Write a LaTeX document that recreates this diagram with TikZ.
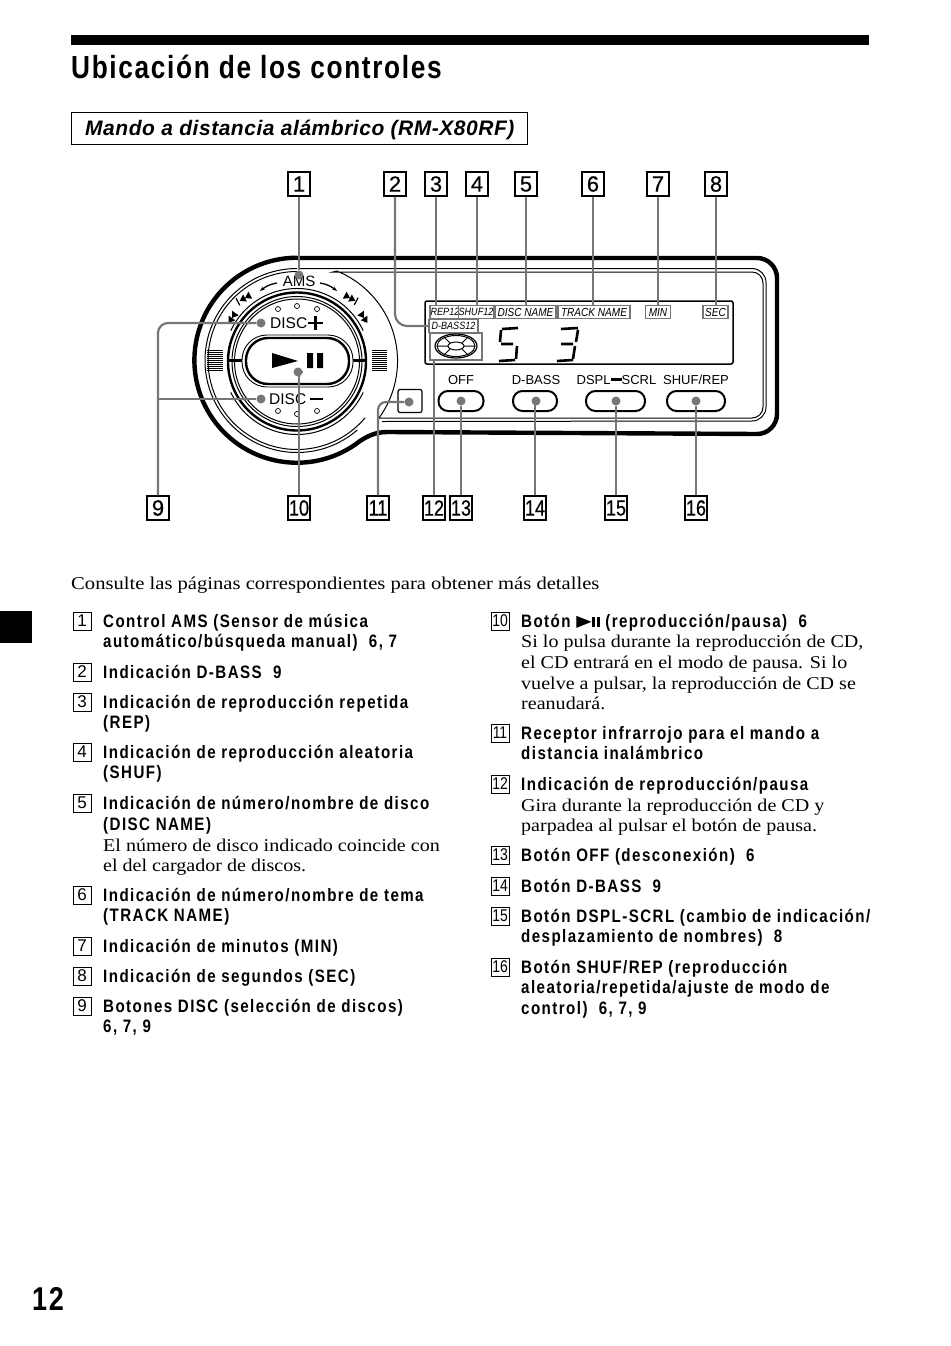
\documentclass[tikz,border=0pt]{standalone}
\usepackage{fontspec}
\usepackage{tikz}
\usetikzlibrary{positioning}
\usetikzlibrary{arrows.meta}
\setsansfont{Liberation Sans}
\setmainfont{Liberation Serif}[FakeStretch=1.115]
\newfontfamily\itemfont{Liberation Sans}[FakeStretch=0.84,LetterSpace=8]
\newfontfamily\headfont{Liberation Sans}[FakeStretch=0.82,LetterSpace=5.2]
\newfontfamily\introfont{Liberation Serif}[FakeStretch=1.145]
\newfontfamily\numfont{Liberation Sans}[FakeStretch=0.82]
\newfontfamily\calloutfont{Liberation Sans}[FakeStretch=0.82,FakeBold=0.4]
\newfontfamily\calloutwide{Liberation Sans}[FakeBold=0.4]
\newfontfamily\labelfont{Liberation Sans}[FakeStretch=0.86]
\newfontfamily\symfont{DejaVu Sans}[FakeStretch=1.25]
\newcommand{\callnum}[1]{\ifnum#1<10 \sffamily\fi #1}
\newcommand{\boldnum}[1]{\ifnum#1<10 \calloutwide\fi #1}
\newcommand{\playpause}{{\symfont\fontsize{16}{16}\selectfont\raisebox{.5pt}{▶}}\kern.5pt\rule{3pt}{10pt}\kern1.5pt\rule{3pt}{10pt}}
\newcommand{\skipmark}[3]{%
  \begin{scope}[shift={(#1)},rotate=#2]
    \fill (-6,0) -- (0,-4) -- (0,4) -- cycle (0,0) -- (6,-4) -- (6,4) -- cycle;
    #3
  \end{scope}}
\definecolor{leadergray}{HTML}{767676}

\begin{document}
\begin{tikzpicture}[
    x=1pt, y=-1pt,
    callout/.style={rectangle, draw, line width=1.2pt, minimum width=22pt, minimum height=24pt, inner sep=0pt, font=\calloutfont\fontsize{22}{22}\selectfont},
    listnum/.style={rectangle, draw, line width=.9pt, minimum width=18pt, minimum height=18pt, inner sep=0pt, font=\numfont\fontsize{17}{17}\selectfont},
    item/.style={anchor=base west, inner sep=0pt, align=left, font=\itemfont\bfseries\fontsize{18}{20.6}\selectfont},
    plain/.style={anchor=base west, inner sep=0pt, align=left, font=\rmfamily\fontsize{18}{20.6}\selectfont},
    dot/.style={circle, fill=leadergray, minimum size=9pt, inner sep=0pt},
    leader/.style={draw=leadergray, line width=2.2pt},
    seglabel/.style={rectangle, draw=leadergray, line width=1.6pt, fill=white, inner sep=0pt, minimum height=13pt, font=\labelfont\itshape\fontsize{10.5}{10.5}\selectfont},
    seglong/.style={seglabel, font=\labelfont\itshape\fontsize{11.7}{11.7}\selectfont},
    keypill/.style={rectangle, rounded corners=9.5pt, draw, line width=2pt, minimum height=20pt, inner sep=0pt},
    keytext/.style={inner sep=0pt, font=\sffamily\fontsize{13}{13}\selectfont},
    digit/.style={line width=2.6pt},
    thinring/.style={line width=1pt},
    ledhole/.style={circle, draw, line width=.7pt, minimum size=5pt, inner sep=0pt}
]
\useasboundingbox (0,0) rectangle (950,1346);

% Page head
\fill (71,35) rectangle (869,45);
\fill (0,611) rectangle (32,643);
\node[item, font=\headfont\bfseries\fontsize{32}{32}\selectfont] (title) at (71,78) {Ubicación de los controles};
\node[rectangle, draw, line width=.9pt, minimum width=456pt, minimum height=32pt, inner sep=0pt] (subbox) at (299,128) {};
\node[anchor=base west, inner sep=0pt, font=\sffamily\bfseries\itshape\fontsize{21}{21}\selectfont] (subtitle) at (85,135) {\addfontfeature{LetterSpace=2.5}Mando a distancia alámbrico (RM-X80RF)};

% Body of the remote
\draw[line width=4.4pt] (297,258) -- (757,258) arc (270:360:20) -- (777,414) arc (0:90:20) -- (388,432)
   .. controls (375,432) and (368,436) .. (360,441) arc (52:270:102.5);
\draw[thinring] (333,272) -- (752,272) arc (270:360:11) -- (763,407) arc (0:90:11) -- (392,418) -- (379,418) arc (36:-68:97) -- cycle;
\draw[thinring] (300,268.5) -- (752,268.5) arc (270:360:14) -- (766,407) arc (0:90:14) -- (382,421.5);
\draw[thinring] (297,360.5) ++(49:92) arc (49:270:92);
\draw[thinring] (297,360.5) ++(40:89) arc (40:272:89);
\draw[line width=2.4pt] (297,361.5) circle (69);
\draw[thinring] (297,361.5) circle (65);
\draw[thinring] (297,361.5) circle (62.5);
\draw[thinring] (297,361.5) ++(205:73) arc (205:335:73);
\draw[thinring] (297,361.5) ++(25:73) arc (25:155:73);

% Side grips
\foreach \gy in {350,352,...,370} {
  \draw[line width=.6pt] (207,\gy) -- (223,\gy);
  \draw[line width=.6pt] (372,\gy) -- (387,\gy);
}
\draw[line width=3pt] (229,360) -- (246,360) (349,360) -- (365,360);

% Centre key
\node[rectangle, rounded corners=25pt, draw, line width=.9pt, minimum width=111pt, minimum height=52pt, inner sep=0pt, fill=white] (playouter) at (297.5,361) {};
\node[rectangle, rounded corners=22pt, draw, line width=2.4pt, minimum width=103pt, minimum height=46pt, inner sep=0pt] (playkey) at (297.5,361) {};
\fill (272,353) -- (298,361) -- (272,368) -- cycle;
\fill (307,353) rectangle (313,368) (317,353) rectangle (323,368);

% Disc keys and AMS
\node[keytext, anchor=west, font=\sffamily\fontsize{15.5}{15.5}\selectfont] (discplus) at (270,323) {DISC};
\draw[line width=2.6pt] (308,323) -- (323,323) (315.5,316) -- (315.5,330);
\node[keytext, anchor=west, font=\sffamily\fontsize{15.5}{15.5}\selectfont] (discminus) at (269,399) {DISC};
\draw[line width=2.6pt] (310,399) -- (323,399);
\foreach \hx/\hy in {278/309,297/306,317/309,278/411,297/414,317/411} {
  \node[ledhole] at (\hx,\hy) {};
}
\node[keytext, font=\sffamily\fontsize{15}{15}\selectfont] (ams) at (299,281) {AMS};
\draw[-{Stealth[length=5pt]}, line width=1.3pt] (277,283) .. controls (270,284) and (265,287) .. (260,291);
\draw[-{Stealth[length=5pt]}, line width=1.3pt] (320,283) .. controls (327,284) and (332,287) .. (337,291);
\skipmark{232,318}{55}{}
\skipmark{245,298}{28}{\draw[line width=1.2pt] (-8,-4) -- (-8,4);}
\begin{scope}[shift={(350,298)},rotate=-28]
  \fill (-6,-4) -- (0,0) -- (-6,4) -- cycle (0,-4) -- (6,0) -- (0,4) -- cycle;
  \draw[line width=1.2pt] (7,-4) -- (7,4);
\end{scope}
\begin{scope}[shift={(364,318)},rotate=-55]
  \fill (-6,-4) -- (0,0) -- (-6,4) -- cycle (0,-4) -- (6,0) -- (0,4) -- cycle;
\end{scope}

% Infrared receiver
\node[rectangle, rounded corners=2pt, draw, line width=1.2pt, minimum width=24pt, minimum height=23pt, inner sep=0pt] (irbox) at (410,401) {};

% Display
\node[rectangle, rounded corners=2pt, draw, line width=1.5pt, minimum width=308pt, minimum height=63pt, inner sep=0pt] (display) at (579,332.5) {};
\node[seglabel, minimum width=30pt] (rep) at (445,312) {REP12};
\node[seglabel, minimum width=32pt] (shuf) at (476,312) {SHUF12};
\node[seglong, minimum width=61pt] (discname) at (525.5,312) {DISC NAME};
\node[seglong, minimum width=72pt] (trackname) at (594,312) {TRACK NAME};
\node[seglong, minimum width=25pt] (minlabel) at (658,312) {MIN};
\node[seglong, minimum width=25pt] (seclabel) at (715.5,312) {SEC};
\node[seglabel, minimum width=49pt] (dbasslabel) at (453.5,326) {D-BASS12};
\node[rectangle, draw=leadergray, line width=1.6pt, minimum width=52pt, minimum height=27pt, inner sep=0pt] (discbox) at (456,346.5) {};
\draw[line width=1.2pt] (456,346) ellipse (21 and 12);
\draw[thinring] (456,346) ellipse (19 and 10.5);
\draw[thinring] (456,346) ellipse (8 and 4);
\draw[thinring] (437,346) -- (448,346) (464,346) -- (475,346) (450,343) -- (444,337) (462,343) -- (468,337) (450,349) -- (444,355) (462,349) -- (468,355);
\draw[digit] (502,329) -- (518,328) (501,330) -- (500,342) (501,344) -- (513,344) (517,346) -- (516,359) (499,361) -- (515,360);
\draw[digit] (561,329) -- (578,328) (578,330) -- (576,342) (561,344) -- (573,344) (575,346) -- (573,359) (557,361) -- (573,360);

% Keys under the display
\node[keytext] (offtext) at (461,380) {OFF};
\node[keytext] (dbasstext) at (536,380) {D-BASS};
\node[keytext] (dspltext) at (616.5,380) {DSPL\rule[3pt]{11pt}{3pt}SCRL};
\node[keytext] (shuftext) at (696,380) {SHUF/REP};
\node[keypill, minimum width=45pt] (offkey) at (461,401) {};
\node[keypill, minimum width=44pt] (dbasskey) at (535,401) {};
\node[keypill, minimum width=59pt] (dsplkey) at (615.5,401) {};
\node[keypill, minimum width=58pt] (shufkey) at (696,401) {};

% Callouts (top row)
\foreach \n/\cx in {1/299,2/395,3/436,4/477,5/526,6/593,7/658,8/716} {
  \node[callout] (c\n) at (\cx,184) {\boldnum{\n}};
}
% Callouts (bottom row)
\foreach \n/\cx in {9/158,10/299,11/378,12/434,13/461,14/535,15/616,16/696} {
  \node[callout] (c\n) at (\cx,508) {\boldnum{\n}};
}

% Dots
\node[dot] (dams) at (299,275) {};
\node[dot] (dplus) at (261,323) {};
\node[dot] (dminus) at (261,399) {};
\node[dot] (dplay) at (298,372) {};
\node[dot] (dir) at (409,402) {};
\node[dot] (doff) at (461,401) {};
\node[dot] (ddbass) at (536,401) {};
\node[dot] (ddspl) at (616,401) {};
\node[dot] (dshuf) at (696,401) {};

% Leaders
\draw[leader] (c1) -- (dams);
\draw[leader, rounded corners=12pt] (c2) |- (dbasslabel.west);
\foreach \n/\t in {3/rep,4/shuf,5/discname,6/trackname,7/minlabel,8/seclabel} {
  \draw[leader] (c\n) -- (c\n |- \t.north);
}
\draw[leader, rounded corners=10pt] (c9) |- (dplus);
\draw[leader] (c9 |- dminus) -- (dminus);
\draw[leader] (c10) -- (c10 |- dplay) -- (dplay);
\draw[leader, rounded corners=8pt] (c11) |- (dir);
\draw[leader] (c12) -- (c12 |- discbox.south);
\draw[leader] (c13) -- (doff);
\draw[leader] (c14) -- (c14 |- ddbass);
\draw[leader] (c15) -- (ddspl);
\draw[leader] (c16) -- (dshuf);

% Text under the picture
\node[plain, font=\introfont\fontsize{18}{20.6}\selectfont] (intro) at (71,589) {Consulte las páginas correspondientes para obtener más detalles};

% Left column
\foreach \n/\ly in {1/621,2/672,3/702,4/752,5/803,6/895,7/946,8/976,9/1006} {
  \node[listnum] (l\n) at (82,\ly) {\callnum{\n}};
}
\node[item] (t1) at (103,647.8) {Control AMS (Sensor de música\\automático/búsqueda manual)\ \ 6, 7};
\node[item] (t2) at (103,678) {Indicación D-BASS\ \ 9};
\node[item] (t3) at (103,728.8) {Indicación de reproducción repetida\\(REP)};
\node[item] (t4) at (103,778.8) {Indicación de reproducción aleatoria\\(SHUF)};
\node[item] (t5) at (103,871.6) {Indicación de número/nombre de disco\\(DISC NAME)\\{\rmfamily\mdseries El número de disco indicado coincide con}\\{\rmfamily\mdseries el del cargador de discos.}};
\node[item] (t6) at (103,921.8) {Indicación de número/nombre de tema\\(TRACK NAME)};
\node[item] (t7) at (103,952) {Indicación de minutos (MIN)};
\node[item] (t8) at (103,982) {Indicación de segundos (SEC)};
\node[item] (t9) at (103,1032.8) {Botones DISC (selección de discos)\\6, 7, 9};

% Right column
\foreach \n/\ly in {10/621,11/733,12/784,13/855,14/886,15/916,16/967} {
  \node[listnum] (l\n) at (500,\ly) {\callnum{\n}};
}
\node[item] (t10) at (521,709.6) {Botón \playpause\ (reproducción/pausa)\ \ 6\\{\rmfamily\mdseries Si lo pulsa durante la reproducción de CD,}\\{\rmfamily\mdseries el CD entrará en el modo de pausa. Si lo}\\{\rmfamily\mdseries vuelve a pulsar, la reproducción de CD se}\\{\rmfamily\mdseries reanudará.}};
\node[item] (t11) at (521,759.8) {Receptor infrarrojo para el mando a\\distancia inalámbrico};
\node[item] (t12) at (521,831.6) {Indicación de reproducción/pausa\\{\rmfamily\mdseries Gira durante la reproducción de CD y}\\{\rmfamily\mdseries parpadea al pulsar el botón de pausa.}};
\node[item] (t13) at (521,861) {Botón OFF (desconexión)\ \ 6};
\node[item] (t14) at (521,892) {Botón D-BASS\ \ 9};
\node[item] (t15) at (521,942.8) {Botón DSPL-SCRL (cambio de indicación/\\desplazamiento de nombres)\ \ 8};
\node[item] (t16) at (521,1014.4) {Botón SHUF/REP (reproducción\\aleatoria/repetida/ajuste de modo de\\control)\ \ 6, 7, 9};

% Page number
\node[item, font=\headfont\bfseries\fontsize{33}{33}\selectfont] (pagenum) at (32,1310) {12};
\end{tikzpicture}
\end{document}
